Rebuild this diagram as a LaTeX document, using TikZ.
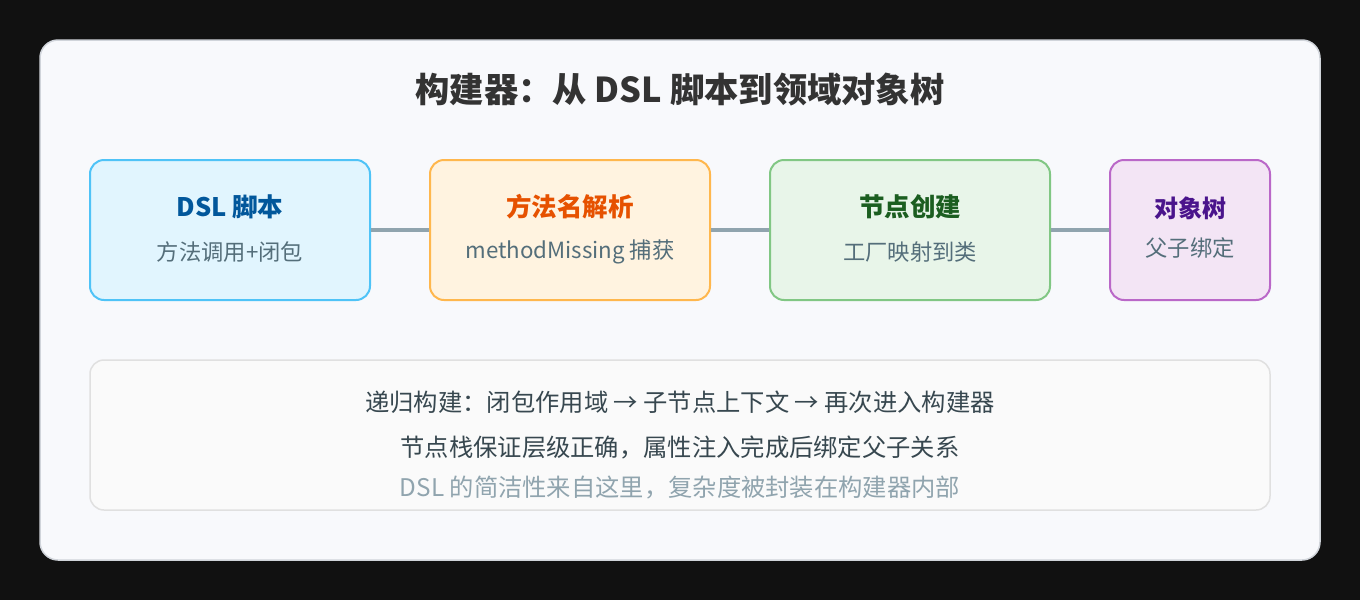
\documentclass[tikz,border=0pt]{standalone}
\usepackage{fontspec}
\setmainfont{Noto Sans CJK SC}
\definecolor{bgdark}{HTML}{111111}
\definecolor{panelfill}{HTML}{F8F9FC}
\definecolor{panelline}{HTML}{D0D4DA}
\definecolor{titlec}{HTML}{333333}
\definecolor{subc}{HTML}{546E7A}
\definecolor{linec}{HTML}{90A4AE}
\definecolor{darkc}{HTML}{37474F}
\definecolor{fa}{HTML}{E1F5FE}\definecolor{da}{HTML}{4FC3F7}\definecolor{ta}{HTML}{01579B}
\definecolor{fb}{HTML}{FFF3E0}\definecolor{db}{HTML}{FFB74D}\definecolor{tb}{HTML}{E65100}
\definecolor{fc}{HTML}{E8F5E9}\definecolor{dc}{HTML}{81C784}\definecolor{tc}{HTML}{1B5E20}
\definecolor{fd}{HTML}{F3E5F5}\definecolor{dd}{HTML}{BA68C8}\definecolor{td}{HTML}{4A148C}
\definecolor{nfill}{HTML}{FAFAFA}\definecolor{nline}{HTML}{E0E0E0}
\begin{document}
\begin{tikzpicture}[x=1pt,y=-1pt,
  stagebox/.style={draw, line width=2pt, rounded corners=14pt, inner sep=0pt},
  link/.style={draw=linec, line width=3.5pt},
  boxtitle/.style={font=\fontsize{25.5}{30}\selectfont\bfseries},
  boxsub/.style={font=\fontsize{22.3}{27}\selectfont, text=subc},
  noteline/.style={font=\fontsize{24.3}{29}\selectfont}]
\useasboundingbox (0,0) rectangle (1360,600);
\fill[bgdark] (0,0) rectangle (1360,600);
\draw[fill=panelfill, draw=panelline, line width=1.5pt, rounded corners=18pt] (40,40) rectangle (1320,560);
\node[font=\fontsize{34.3}{40}\selectfont\bfseries, text=titlec] (title) at (680,90) {构建器：从 DSL 脚本到领域对象树};
% stage boxes
\node[stagebox, fill=fa, draw=da, minimum width=280pt, minimum height=140pt] (s1) at (230,230) {};
\node[stagebox, fill=fb, draw=db, minimum width=280pt, minimum height=140pt] (s2) at (570,230) {};
\node[stagebox, fill=fc, draw=dc, minimum width=280pt, minimum height=140pt] (s3) at (910,230) {};
\node[stagebox, fill=fd, draw=dd, minimum width=160pt, minimum height=140pt] (s4) at (1190,230) {};
\draw[link] (s1.east) -- (s2.west);
\draw[link] (s2.east) -- (s3.west);
\draw[link] (s3.east) -- (s4.west);
\node[boxtitle, text=ta] (t1) at (230,207) {DSL 脚本};
\node[boxsub] (u1) at (230,252) {方法调用+闭包};
\node[boxtitle, text=tb] (t2) at (570,207) {方法名解析};
\node[boxsub] (u2) at (570,252) {methodMissing 捕获};
\node[boxtitle, text=tc] (t3) at (910,207) {节点创建};
\node[boxsub] (u3) at (910,252) {工厂映射到类};
\node[boxtitle, text=td, font=\fontsize{24}{29}\selectfont\bfseries] (t4) at (1190,208) {对象树};
\node[boxsub] (u4) at (1190,248) {父子绑定};
% note box
\node[draw=nline, fill=nfill, line width=1.5pt, rounded corners=14pt, minimum width=1180pt, minimum height=150pt] (note) at (680,435) {};
\node[noteline, text=darkc] (n1) at (680,402) {递归构建：闭包作用域 → 子节点上下文 → 再次进入构建器};
\node[noteline, text=darkc] (n2) at (680,447) {节点栈保证层级正确，属性注入完成后绑定父子关系};
\node[noteline, text=linec] (n3) at (680,488) {DSL 的简洁性来自这里，复杂度被封装在构建器内部};
\end{tikzpicture}
\end{document}
